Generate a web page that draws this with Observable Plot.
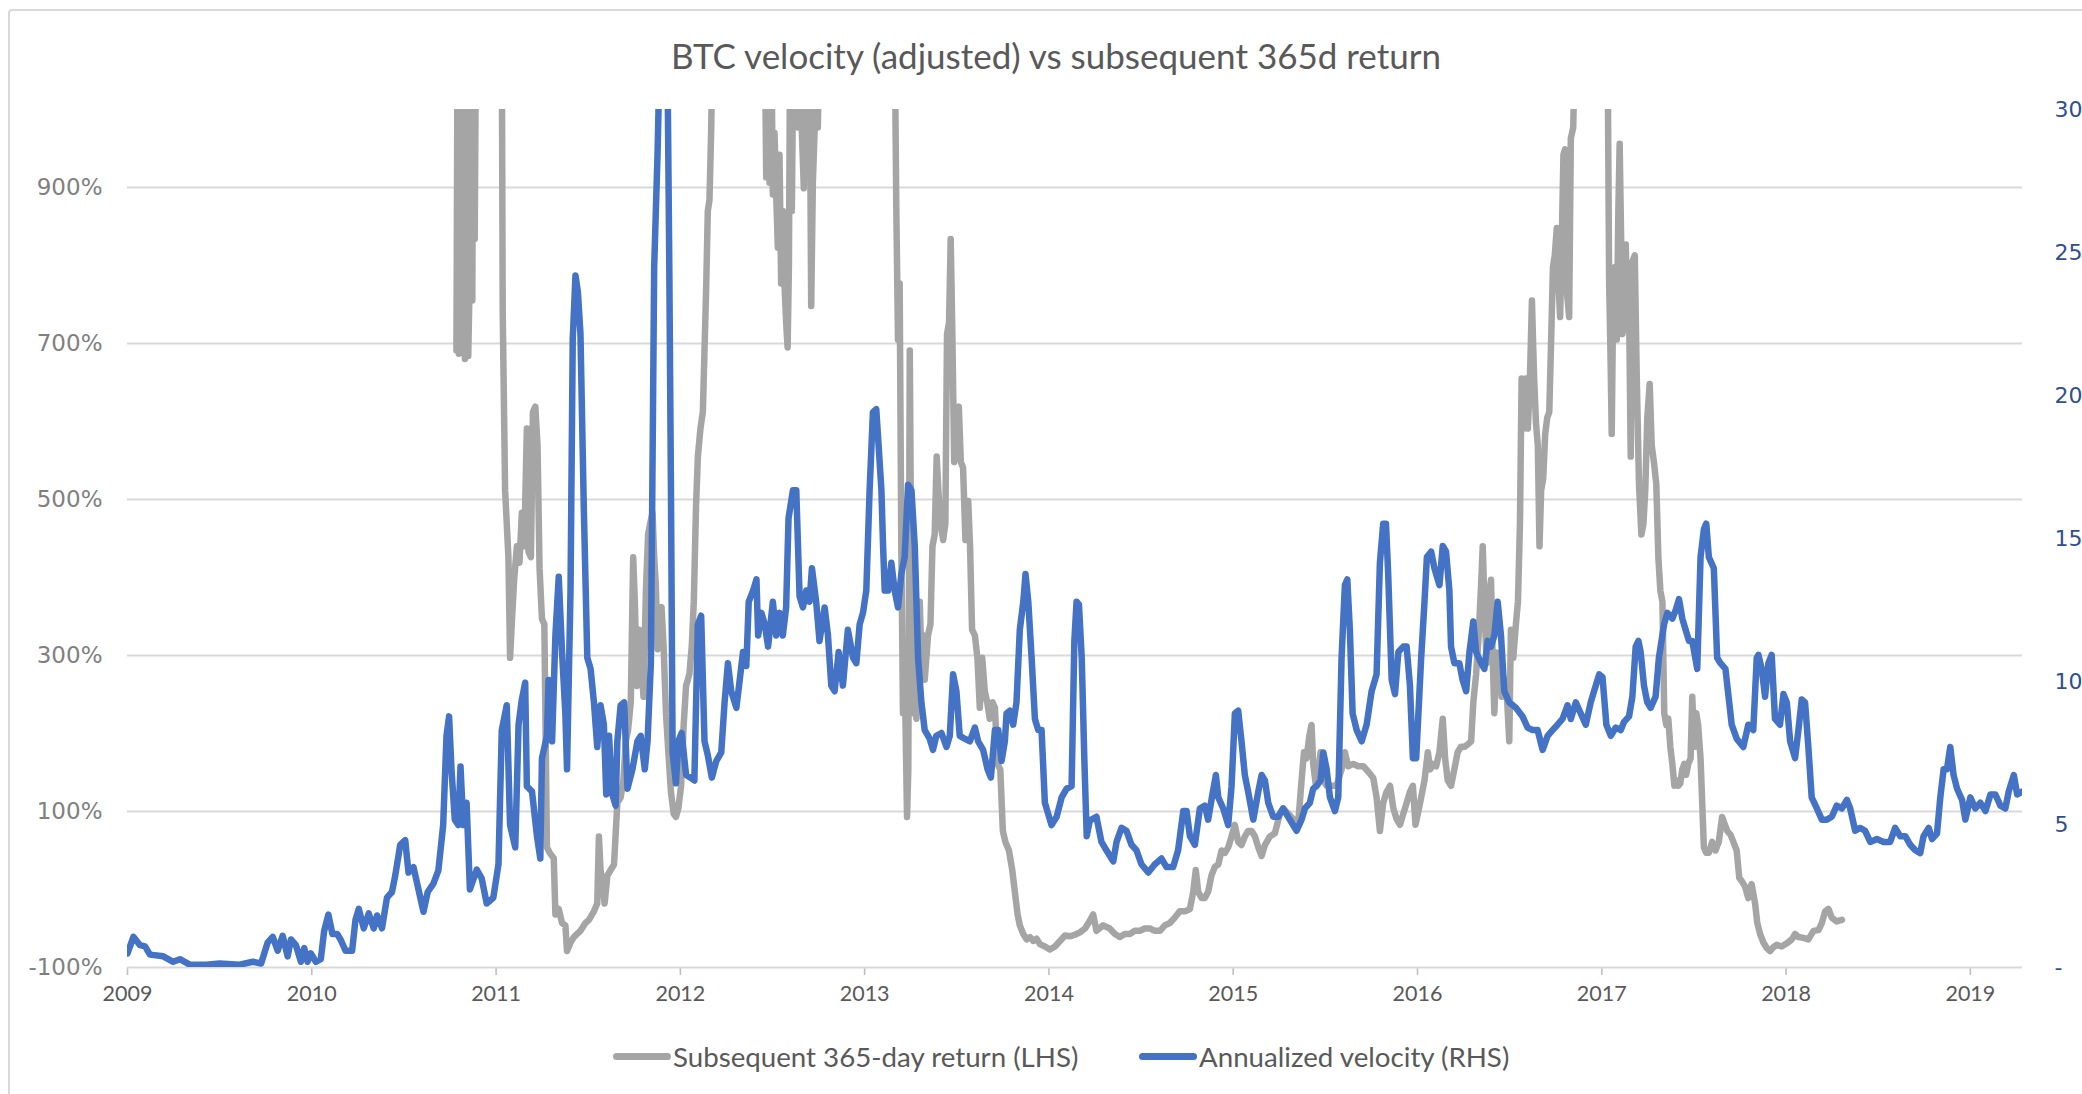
<!DOCTYPE html>
<html><head><meta charset="utf-8">
<script src="https://cdn.jsdelivr.net/npm/d3@7"></script>
<script src="https://cdn.jsdelivr.net/npm/@observablehq/plot@0.6"></script>
<style>
html,body{margin:0;padding:0;background:#fff;}
body{width:2082px;height:1094px;position:relative;overflow:hidden;font-family:Lato,"Open Sans",sans-serif;}
#frame{position:absolute;left:8px;top:9px;width:2200px;height:1200px;border:2px solid #d9d9d9;border-radius:4px;box-sizing:border-box;}
#title{position:absolute;left:0;top:30px;width:2112px;text-align:center;font-size:35px;color:#595959;line-height:50px;}
#chart{position:absolute;left:0;top:95px;}
.lg{position:absolute;top:1037px;height:38px;display:flex;align-items:center;font-size:27.7px;color:#595959;}
.sw{display:inline-block;width:58px;height:7px;border-radius:3.5px;margin-right:2px;}
</style>
</head><body>
<div id="frame"></div>
<div id="title">BTC velocity (adjusted) vs subsequent 365d return</div>
<div id="chart"></div>
<div id="legend"></div>
<script>
const titleText = "BTC velocity (adjusted) vs subsequent 365d return";
const seriesNames = ["Subsequent 365-day return (LHS)", "Annualized velocity (RHS)"];
const seriesColors = ["#a5a5a5", "#4472c4"];
const yearTicks = [2009,2010,2011,2012,2013,2014,2015,2016,2017,2018,2019];
const leftTicks = [-100,100,300,500,700,900];
const rightTicks = [0,5,10,15,20,25,30];

// Subsequent 365-day return (%), LHS; values above 1000 run off the top of the chart
const returnYears = [
2010.785,2010.791,2010.798,2010.807,2010.815,2010.822,2010.831,2010.840,2010.849,2010.858,2010.864,2010.871,2010.876,2010.884,2010.891,2010.950,
2011.031,2011.036,2011.049,2011.067,2011.076,2011.085,2011.098,2011.113,2011.127,2011.140,2011.153,2011.167,2011.176,2011.189,2011.200,2011.213,2011.225,2011.236,2011.249,2011.262,2011.276,2011.291,2011.313,2011.322,2011.340,2011.358,2011.376,2011.385,2011.404,2011.422,2011.440,2011.458,2011.485,2011.504,2011.531,2011.549,2011.558,2011.567,2011.576,2011.589,2011.604,2011.622,2011.640,2011.658,2011.676,2011.691,2011.704,2011.716,2011.731,2011.744,2011.753,2011.764,2011.776,2011.789,2011.800,2011.813,2011.825,2011.836,2011.849,2011.858,2011.867,2011.876,2011.885,2011.898,2011.909,2011.922,2011.935,2011.949,2011.964,2011.976,2011.989,
2012.004,2012.018,2012.031,2012.049,2012.062,2012.073,2012.085,2012.095,2012.109,2012.122,2012.131,2012.140,2012.149,2012.158,2012.167,2012.176,2012.320,2012.458,2012.466,2012.475,2012.484,2012.493,2012.502,2012.511,2012.520,2012.529,2012.538,2012.547,2012.556,2012.565,2012.574,2012.582,2012.589,2012.596,2012.605,2012.614,2012.638,2012.647,2012.659,2012.670,2012.679,2012.692,2012.701,2012.710,2012.719,2012.728,2012.737,2012.746,2012.755,2012.960,
2013.163,2013.172,2013.181,2013.190,2013.199,2013.208,2013.221,2013.230,2013.237,2013.245,2013.254,2013.263,2013.272,2013.281,2013.290,2013.299,2013.308,2013.317,2013.326,2013.344,2013.357,2013.368,2013.380,2013.391,2013.400,2013.411,2013.426,2013.438,2013.447,2013.458,2013.467,2013.476,2013.486,2013.498,2013.511,2013.522,2013.534,2013.547,2013.562,2013.572,2013.583,2013.598,2013.612,2013.625,2013.638,2013.652,2013.665,2013.679,2013.694,2013.707,2013.721,2013.736,2013.750,2013.764,2013.783,2013.801,2013.815,2013.830,2013.842,2013.861,2013.879,2013.897,2013.915,2013.933,2013.951,2013.978,
2014.005,2014.033,2014.060,2014.087,2014.114,2014.141,2014.168,2014.196,2014.222,2014.240,2014.258,2014.294,2014.330,2014.358,2014.385,2014.412,2014.439,2014.466,2014.493,2014.520,2014.548,2014.575,2014.602,2014.629,2014.656,2014.683,2014.710,2014.738,2014.765,2014.783,2014.797,2014.810,2014.828,2014.846,2014.864,2014.882,2014.900,2014.919,2014.937,2014.955,2014.973,2014.991,
2015.009,2015.027,2015.045,2015.063,2015.081,2015.100,2015.118,2015.136,2015.154,2015.172,2015.199,2015.226,2015.253,2015.271,2015.299,2015.326,2015.353,2015.371,2015.384,2015.398,2015.413,2015.425,2015.434,2015.449,2015.461,2015.474,2015.489,2015.507,2015.534,2015.561,2015.588,2015.606,2015.624,2015.651,2015.678,2015.706,2015.733,2015.760,2015.778,2015.796,2015.814,2015.832,2015.851,2015.869,2015.887,2015.905,2015.923,2015.941,2015.959,2015.975,2015.989,
2016.002,2016.020,2016.038,2016.056,2016.069,2016.083,2016.101,2016.119,2016.137,2016.150,2016.164,2016.182,2016.200,2016.218,2016.236,2016.255,2016.273,2016.291,2016.303,2016.318,2016.332,2016.345,2016.354,2016.363,2016.375,2016.386,2016.399,2016.408,2016.417,2016.430,2016.444,2016.457,2016.471,2016.484,2016.498,2016.507,2016.520,2016.534,2016.545,2016.556,2016.565,2016.576,2016.588,2016.599,2016.610,2016.621,2016.632,2016.643,2016.653,2016.662,2016.671,2016.682,2016.693,2016.704,2016.715,2016.726,2016.735,2016.745,2016.756,2016.765,2016.774,2016.783,2016.792,2016.801,2016.812,2016.823,2016.832,2016.845,2016.856,2016.945,
2017.031,2017.040,2017.047,2017.054,2017.063,2017.072,2017.081,2017.090,2017.097,2017.105,2017.112,2017.121,2017.130,2017.139,2017.148,2017.157,2017.166,2017.179,2017.190,2017.202,2017.215,2017.226,2017.236,2017.247,2017.260,2017.271,2017.283,2017.296,2017.307,2017.318,2017.329,2017.339,2017.350,2017.361,2017.372,2017.383,2017.394,2017.404,2017.415,2017.426,2017.437,2017.448,2017.458,2017.469,2017.482,2017.491,2017.502,2017.513,2017.523,2017.536,2017.545,2017.554,2017.567,2017.581,2017.599,2017.617,2017.635,2017.653,2017.668,2017.681,2017.699,2017.714,2017.732,2017.746,2017.759,2017.777,2017.795,2017.813,2017.832,2017.844,2017.859,2017.877,2017.895,2017.913,2017.931,2017.949,2017.976,
2018.004,2018.031,2018.049,2018.067,2018.094,2018.121,2018.149,2018.176,2018.194,2018.212,2018.230,2018.248,2018.275,2018.303
];
const returnValues = [
691,1100,687,1100,695,1100,680,1100,684,798,1100,755,1100,834,1100,1300,
1100,741,512,426,297,340,397,440,419,483,440,591,433,426,612,619,569,412,347,340,54,47,40,-32,-25,-43,-46,-79,-68,-61,-57,-53,-43,-39,-28,-18,68,25,11,-18,18,25,32,111,118,140,190,204,240,426,369,261,333,283,247,383,455,469,483,426,390,308,355,362,312,226,176,125,97,93,104,
133,211,261,276,312,369,491,555,591,612,691,770,870,884,970,1100,1300,1100,913,1100,906,1100,891,970,891,823,942,777,870,777,727,695,798,1100,870,1100,977,1100,974,899,1100,970,1100,748,906,970,1100,977,1100,1300,
1100,870,705,777,440,226,226,93,154,691,369,226,261,219,312,369,297,326,269,326,340,440,455,555,512,469,448,469,712,727,834,712,548,612,619,548,541,448,498,440,333,326,297,233,297,254,240,219,240,233,161,154,75,61,50,25,-3,-32,-46,-57,-64,-61,-66,-63,-70,-73,
-77,-73,-66,-59,-60,-58,-55,-50,-40,-32,-53,-46,-50,-57,-61,-57,-57,-53,-53,-50,-50,-53,-53,-46,-43,-36,-28,-28,-25,-3,25,-3,-11,-11,-3,18,29,32,50,47,54,68,
83,61,57,68,75,75,68,54,43,57,68,72,97,104,97,90,86,140,176,168,197,211,161,133,147,176,140,133,133,133,154,176,158,161,158,158,151,143,118,75,111,125,133,104,90,83,97,111,125,133,83,
97,118,140,176,154,161,158,176,219,168,140,133,154,176,183,183,186,190,240,276,326,390,440,369,290,369,397,297,226,304,297,247,269,254,190,333,297,340,369,469,655,591,655,591,655,755,662,598,569,440,512,526,584,605,612,712,798,813,848,777,734,834,942,949,763,734,963,977,1100,1300,
1100,777,691,584,784,798,705,870,956,834,712,727,827,734,748,555,805,813,655,519,455,469,512,605,648,569,548,519,426,383,369,226,211,219,183,161,133,140,133,136,154,161,147,161,168,247,183,226,211,168,111,54,47,47,61,50,61,93,83,75,70,61,50,15,11,4,-11,7,-18,-43,-57,-68,-75,-79,-74,-71,-73,
-69,-64,-57,-61,-62,-64,-53,-52,-43,-28,-25,-36,-41,-39
];

// Annualized velocity, RHS (0-30)
const velocityYears = [
2009.000,2009.032,2009.068,2009.095,2009.122,2009.194,2009.248,2009.284,2009.338,2009.428,2009.500,2009.608,2009.680,2009.725,2009.761,2009.788,2009.815,2009.842,2009.869,2009.887,2009.914,2009.941,2009.959,2009.977,2009.995,
2010.022,2010.049,2010.067,2010.090,2010.112,2010.138,2010.156,2010.183,2010.219,2010.237,2010.255,2010.282,2010.309,2010.336,2010.354,2010.381,2010.408,2010.435,2010.453,2010.480,2010.507,2010.525,2010.552,2010.579,2010.606,2010.629,2010.660,2010.687,2010.713,2010.731,2010.745,2010.758,2010.776,2010.795,2010.807,2010.822,2010.840,2010.858,2010.895,2010.922,2010.949,2010.985,
2011.013,2011.031,2011.058,2011.076,2011.104,2011.122,2011.140,2011.158,2011.167,2011.195,2011.222,2011.240,2011.249,2011.276,2011.285,2011.304,2011.322,2011.340,2011.358,2011.376,2011.385,2011.404,2011.416,2011.431,2011.444,2011.458,2011.476,2011.495,2011.513,2011.531,2011.549,2011.567,2011.585,2011.598,2011.613,2011.631,2011.649,2011.658,2011.676,2011.695,2011.713,2011.740,2011.767,2011.785,2011.807,2011.822,2011.840,2011.858,2011.876,2011.885,2011.931,2011.940,2011.949,2011.958,2011.976,2011.989,
2012.007,2012.031,2012.055,2012.076,2012.095,2012.113,2012.131,2012.149,2012.171,2012.195,2012.222,2012.240,2012.258,2012.276,2012.304,2012.322,2012.340,2012.358,2012.371,2012.395,2012.413,2012.422,2012.440,2012.458,2012.476,2012.502,2012.520,2012.538,2012.556,2012.574,2012.587,2012.611,2012.629,2012.647,2012.665,2012.683,2012.701,2012.714,2012.737,2012.755,2012.783,2012.801,2012.819,2012.837,2012.859,2012.882,2012.909,2012.937,2012.955,2012.973,2012.991,
2013.009,2013.027,2013.045,2013.063,2013.072,2013.091,2013.100,2013.109,2013.127,2013.145,2013.163,2013.181,2013.199,2013.217,2013.236,2013.254,2013.272,2013.290,2013.308,2013.326,2013.353,2013.371,2013.389,2013.417,2013.444,2013.462,2013.480,2013.498,2013.516,2013.543,2013.571,2013.598,2013.616,2013.643,2013.667,2013.685,2013.707,2013.725,2013.743,2013.761,2013.770,2013.788,2013.806,2013.824,2013.842,2013.861,2013.873,2013.888,2013.906,2013.924,2013.942,2013.960,2013.978,2013.996,
2014.014,2014.042,2014.069,2014.096,2014.123,2014.138,2014.150,2014.163,2014.178,2014.192,2014.205,2014.223,2014.231,2014.258,2014.285,2014.312,2014.349,2014.367,2014.394,2014.421,2014.448,2014.475,2014.502,2014.539,2014.575,2014.611,2014.638,2014.674,2014.701,2014.729,2014.747,2014.765,2014.792,2014.819,2014.846,2014.864,2014.882,2014.906,2014.919,2014.946,2014.973,2014.991,
2015.009,2015.027,2015.045,2015.063,2015.081,2015.109,2015.136,2015.154,2015.172,2015.190,2015.217,2015.244,2015.271,2015.307,2015.344,2015.371,2015.389,2015.416,2015.434,2015.452,2015.474,2015.489,2015.507,2015.525,2015.552,2015.570,2015.588,2015.606,2015.619,2015.633,2015.648,2015.670,2015.697,2015.724,2015.751,2015.778,2015.796,2015.814,2015.829,2015.841,2015.860,2015.878,2015.896,2015.923,2015.941,2015.959,2015.975,2015.993,
2016.020,2016.038,2016.051,2016.074,2016.092,2016.119,2016.137,2016.155,2016.173,2016.182,2016.200,2016.227,2016.245,2016.264,2016.282,2016.303,2016.318,2016.345,2016.363,2016.381,2016.399,2016.417,2016.435,2016.453,2016.471,2016.498,2016.534,2016.570,2016.597,2016.625,2016.652,2016.679,2016.706,2016.733,2016.760,2016.787,2016.814,2016.832,2016.859,2016.886,2016.913,2016.940,2016.958,2016.986,
2017.004,2017.025,2017.049,2017.076,2017.103,2017.121,2017.148,2017.166,2017.184,2017.199,2017.211,2017.229,2017.247,2017.265,2017.292,2017.310,2017.338,2017.356,2017.383,2017.401,2017.419,2017.437,2017.455,2017.473,2017.491,2017.518,2017.536,2017.554,2017.567,2017.581,2017.608,2017.626,2017.644,2017.671,2017.705,2017.732,2017.768,2017.795,2017.822,2017.841,2017.850,2017.868,2017.886,2017.904,2017.922,2017.940,2017.967,2017.986,
2018.004,2018.022,2018.049,2018.067,2018.085,2018.103,2018.121,2018.139,2018.167,2018.194,2018.221,2018.248,2018.275,2018.303,2018.330,2018.348,2018.375,2018.402,2018.429,2018.457,2018.493,2018.529,2018.565,2018.592,2018.620,2018.647,2018.674,2018.701,2018.728,2018.746,2018.774,2018.792,2018.819,2018.837,2018.855,2018.873,2018.891,2018.909,2018.928,2018.955,2018.973,
2019.000,2019.027,2019.054,2019.082,2019.109,2019.136,2019.163,2019.190,2019.208,2019.236,2019.254,2019.281,2019.299
];
const velocityValues = [
0.49,1.07,0.78,0.74,0.45,0.39,0.20,0.29,0.10,0.10,0.14,0.10,0.20,0.14,0.88,1.07,0.59,1.11,0.39,0.98,0.78,0.20,0.68,0.20,0.49,
0.20,0.29,1.27,1.85,1.17,1.17,0.98,0.59,0.59,1.66,2.05,1.37,1.89,1.37,1.82,1.37,2.44,2.64,3.22,4.29,4.45,3.32,3.51,2.73,1.95,2.64,2.93,3.40,4.98,8.10,8.78,6.93,5.17,4.98,7.03,4.98,5.76,2.73,3.42,3.12,2.24,2.44,
3.61,8.30,9.17,4.98,4.20,8.49,9.37,9.96,6.34,6.15,4.59,3.81,7.32,8.10,10.05,7.91,11.61,13.66,11.03,8.88,6.93,13.18,21.96,24.20,23.62,22.15,16.10,10.83,10.44,9.27,7.71,9.17,8.49,6.05,8.10,6.05,5.66,7.91,9.17,9.27,6.25,6.93,7.91,8.10,6.93,7.91,10.64,24.50,28.40,31,31,24.50,16.69,7.52,6.44,7.91,
8.20,6.73,6.64,6.54,12.00,12.30,7.91,7.42,6.64,7.22,7.52,9.27,10.64,9.66,9.08,10.05,11.03,10.54,12.79,13.18,13.57,11.61,12.40,12.00,11.22,12.79,11.61,12.40,11.61,12.59,15.71,16.69,16.69,12.98,12.59,13.18,12.79,13.96,12.79,11.42,12.59,11.61,9.86,9.66,11.03,9.86,11.81,10.83,10.64,12.00,12.40,
13.18,16.69,19.42,19.52,18.64,16.69,14.74,13.18,13.18,14.15,13.18,12.59,13.76,14.35,16.88,16.69,14.74,10.83,9.27,8.30,8.00,7.61,8.10,8.20,7.71,8.10,10.25,9.66,8.10,8.00,7.91,8.39,7.91,7.61,6.93,6.64,8.30,8.30,7.22,7.91,8.88,8.98,8.49,9.27,11.81,12.79,13.76,12.79,10.83,8.69,8.30,8.30,5.76,5.37,
4.98,5.27,5.95,6.25,6.34,11.42,12.79,12.69,10.83,7.32,4.59,5.17,5.17,5.27,4.39,4.10,3.71,4.39,4.88,4.78,4.29,4.10,3.61,3.32,3.61,3.81,3.51,3.51,4.10,5.47,5.47,4.59,4.29,5.56,5.66,5.17,5.86,6.73,5.95,5.56,4.98,6.34,
8.88,8.98,7.91,6.73,6.15,5.17,6.15,6.73,6.54,5.76,5.27,5.27,5.56,5.17,4.78,5.17,5.56,5.76,6.25,6.34,6.54,7.52,6.93,5.95,5.47,5.95,10.83,13.37,13.57,11.81,8.88,8.30,7.91,8.49,9.66,10.25,14.15,15.52,15.52,13.76,10.05,9.56,11.03,11.22,11.22,9.86,7.32,7.32,
10.83,12.79,14.35,14.54,13.96,13.37,14.74,14.54,13.18,11.22,10.64,10.64,10.05,9.66,11.03,12.10,11.03,10.64,10.44,11.42,11.22,11.61,12.79,11.61,9.66,9.27,9.08,8.78,8.39,8.30,8.30,7.61,8.10,8.30,8.49,8.69,9.17,8.69,9.27,8.88,8.49,9.27,9.66,10.25,
10.15,8.49,8.10,8.39,8.30,8.59,8.78,9.47,11.22,11.42,11.03,9.86,9.27,9.08,9.47,10.83,12.00,12.40,12.20,12.49,12.88,12.20,11.81,11.42,11.42,10.44,14.35,15.32,15.52,14.35,13.96,10.83,10.64,10.44,8.49,8.00,7.71,8.49,8.30,10.83,10.93,10.44,9.47,10.64,10.93,8.69,8.49,9.56,
9.27,7.91,7.32,8.30,9.37,9.27,7.71,5.95,5.56,5.17,5.17,5.27,5.66,5.56,5.86,5.56,4.78,4.88,4.78,4.39,4.49,4.39,4.39,4.88,4.59,4.59,4.29,4.10,4.00,4.59,4.88,4.49,4.68,5.95,6.93,6.93,7.71,6.73,6.25,5.86,5.17,
5.95,5.56,5.76,5.47,6.05,6.05,5.66,5.56,6.15,6.73,6.05,6.15,6.05
];

const returnData = returnYears.map((t, i) => ({t, v: returnValues[i]}));
const velocityData = velocityYears.map((t, i) => ({t, v: velocityValues[i]}));

// map RHS (0..30) onto LHS (-100%..1000%)
const toLeft = v => -100 + v * 1100 / 30;
const fromLeft = y => Math.round((y + 100) * 30 / 1100);

const chart = Plot.plot({
  width: 2082,
  height: 935,
  marginLeft: 127,
  marginRight: 60,
  marginTop: 14,
  marginBottom: 63,
  x: {type: "linear", domain: [2009, 2019.283]},
  y: {type: "linear", domain: [-100, 1000]},
  style: {background: "transparent", overflow: "visible"},
  marks: [
    Plot.gridY([100, 300, 500, 700, 900], {stroke: "#d9d9d9", strokeOpacity: 1, strokeWidth: 2}),
    Plot.axisX(yearTicks, {tickSize: 8, tickPadding: 10, tickFormat: d => String(d), stroke: "#bfbfbf", strokeWidth: 1.6, fill: "#595959", fontSize: 21.5, fontFamily: "Lato, sans-serif", label: null}),
    Plot.ruleY([-100], {stroke: "#d9d9d9", strokeWidth: 2}),
    Plot.axisY(leftTicks, {anchor: "left", tickSize: 0, tickPadding: 25, tickFormat: d => d + "%", fill: "#808080", fontSize: 23, fontFamily: "DejaVu Sans, sans-serif", label: null}),
    Plot.axisY(rightTicks.map(toLeft), {anchor: "right", tickSize: 0, tickPadding: 32, tickFormat: d => { const v = fromLeft(d); return v === 0 ? "-" : String(v); }, fill: "#2f4f8f", fontSize: 22, fontFamily: "DejaVu Sans, sans-serif", label: null}),
    Plot.line(returnData, {x: "t", y: "v", stroke: seriesColors[0], strokeWidth: 6.5, strokeLinejoin: "round", strokeLinecap: "round", clip: true}),
    Plot.line(velocityData, {x: "t", y: d => toLeft(d.v), stroke: seriesColors[1], strokeWidth: 6.5, strokeLinejoin: "round", strokeLinecap: "round", clip: true})
  ]
});
document.getElementById("chart").appendChild(chart);

// legend
const legend = document.getElementById("legend");
const legendX = [613, 1139];
seriesNames.forEach((name, i) => {
  const item = document.createElement("div");
  item.className = "lg";
  item.style.left = legendX[i] + "px";
  const sw = document.createElement("span");
  sw.className = "sw";
  sw.style.background = seriesColors[i];
  item.appendChild(sw);
  const tx = document.createElement("span");
  tx.textContent = name;
  item.appendChild(tx);
  legend.appendChild(item);
});
document.getElementById("title").textContent = titleText;
</script>
</body></html>
